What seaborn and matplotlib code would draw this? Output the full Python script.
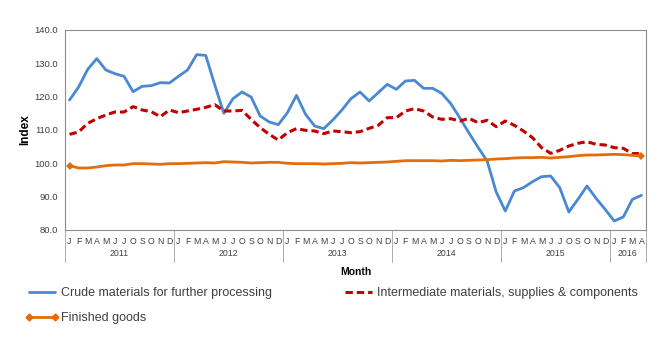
import matplotlib
matplotlib.use("Agg")
import matplotlib.pyplot as plt
import matplotlib.transforms as mtransforms
from matplotlib.lines import Line2D
import seaborn as sns
import pandas as pd
import numpy as np

years = ["2011", "2012", "2013", "2014", "2015", "2016"]
months_per_year = [12, 12, 12, 12, 12, 4]
month_letters = ["J", "F", "M", "A", "M", "J", "J", "O", "S", "O", "N", "D"]

crude = [119.0, 122.9, 128.2, 131.4, 128.0, 126.9, 126.1, 121.5, 123.1, 123.3, 124.2, 124.1,
         126.1, 128.0, 132.6, 132.4, 123.5, 115.0, 119.4, 121.4, 119.9, 114.2, 112.4, 111.6,
         115.2, 120.4, 114.7, 111.2, 110.4, 113.0, 116.0, 119.4, 121.4, 118.7, 121.2, 123.7,
         122.2, 124.7, 124.9, 122.5, 122.5, 121.0, 117.9, 113.6, 109.1, 104.8, 100.7, 91.4,
         85.7, 91.7, 92.7, 94.5, 96.0, 96.2, 92.7, 85.4, 89.2, 93.2, 89.5, 86.2,
         82.7, 83.9, 89.2, 90.4]
intermediate = [108.7, 109.4, 112.0, 113.4, 114.5, 115.4, 115.4, 117.0, 116.0, 115.5, 114.0, 116.0,
                115.2, 115.7, 116.2, 116.8, 117.6, 115.7, 115.7, 115.9, 113.2, 110.7, 108.7, 107.0,
                109.2, 110.4, 109.9, 109.7, 108.9, 109.7, 109.5, 109.2, 109.5, 110.5, 111.4, 113.7,
                113.7, 115.7, 116.4, 115.7, 113.9, 113.2, 113.4, 112.7, 113.5, 112.2, 112.9, 111.0,
                112.7, 111.4, 109.7, 107.7, 104.7, 103.0, 103.9, 105.2, 106.0, 106.5, 105.7, 105.5,
                104.7, 104.5, 102.9, 103.0]
finished = [99.3, 98.6, 98.6, 98.9, 99.3, 99.5, 99.5, 99.9, 99.9, 99.8, 99.7, 99.9,
            99.9, 100.0, 100.1, 100.2, 100.1, 100.5, 100.4, 100.3, 100.1, 100.2, 100.3, 100.3,
            100.0, 99.9, 99.9, 99.9, 99.8, 99.9, 100.0, 100.2, 100.1, 100.2, 100.3, 100.4,
            100.6, 100.8, 100.8, 100.8, 100.8, 100.7, 100.9, 100.8, 100.9, 101.0, 101.1, 101.3,
            101.4, 101.6, 101.7, 101.7, 101.8, 101.6, 101.8, 102.0, 102.3, 102.5, 102.5, 102.6,
            102.7, 102.6, 102.4, 102.2]

series_names = ["Crude materials for further processing",
                "Intermediate materials, supplies & components",
                "Finished goods"]
colors = ["#4A88D2", "#C00000", "#E46C0A"]

sns.set_theme(style="white")
plt.rcParams["font.family"] = ["Liberation Sans", "DejaVu Sans"]

labels = []
for n in months_per_year:
    labels += month_letters[:n]
n_total = len(labels)
xs = np.arange(n_total)

df = pd.DataFrame({"x": np.tile(xs, 3),
                   "value": crude + intermediate + finished,
                   "series": np.repeat(series_names, n_total)})

fig = plt.figure(figsize=(6.62, 3.40), dpi=100)
ax = fig.add_axes([65 / 662, 1 - 230 / 340, (646 - 65) / 662, 200 / 340])

dash = (0, (2.4, 1.3))
d0 = df[df.series == series_names[0]]
d1 = df[df.series == series_names[1]]
d2 = df[df.series == series_names[2]]
sns.lineplot(data=d0, x="x", y="value", color=colors[0], lw=2.0, ax=ax, legend=False)
sns.lineplot(data=d1, x="x", y="value", color=colors[1], lw=2.2, ax=ax, legend=False,
             linestyle=dash)
sns.lineplot(data=d2, x="x", y="value", color=colors[2], lw=2.0, ax=ax, legend=False,
             marker="D", markersize=4.5, markevery=[0, n_total - 1], markeredgewidth=0)

ax.set_xlim(-0.5, n_total - 0.5)
ax.set_ylim(80, 140)
ax.set_yticks(np.arange(80, 141, 10))
ax.set_yticklabels([f"{v:.1f}" for v in np.arange(80, 141, 10)], fontsize=6.8, color="#404040")
ax.tick_params(axis="y", length=0, pad=5)

ax.set_xticks(xs)
ax.set_xticklabels(labels, fontsize=6.3, color="#404040")
ax.set_xticks(np.arange(-0.5, n_total, 1), minor=True)
ax.tick_params(axis="x", which="major", length=0, pad=5)
ax.tick_params(axis="x", which="minor", length=17, width=0.6, color="#A0A0A0", direction="out")

for s in ax.spines.values():
    s.set_color("#8C8C8C")
    s.set_linewidth(0.8)

trans = mtransforms.blended_transform_factory(ax.transData, ax.transAxes)
pos = -0.5
for yr, n in zip(years, months_per_year):
    ax.plot([pos, pos], [0, -0.16], transform=trans, color="#A0A0A0", lw=0.6, clip_on=False)
    ax.text(pos + n / 2, -0.115, yr, transform=trans, ha="center", va="center",
            fontsize=6.3, color="#404040")
    pos += n
ax.plot([pos, pos], [0, -0.16], transform=trans, color="#A0A0A0", lw=0.6, clip_on=False)

ax.set_xlabel("Month", fontsize=7.5, fontweight="bold", labelpad=6, color="black")
ax.set_ylabel("Index", fontsize=8.5, fontweight="bold", labelpad=2, color="black")

handles = [Line2D([], [], color=colors[0], lw=2.0),
           Line2D([], [], color=colors[2], lw=2.0, marker="D", markersize=3.5),
           Line2D([], [], color=colors[1], lw=2.2, linestyle=dash)]
names = [series_names[0], series_names[2], series_names[1]]
leg = fig.legend(handles, names, loc="upper left", bbox_to_anchor=(25 / 662, 1 - 287 / 340),
                 ncol=2, frameon=False, fontsize=9, handlelength=2.7, handletextpad=0.15,
                 columnspacing=5.6, labelspacing=1.05, numpoints=2, borderpad=0,
                 borderaxespad=0)
for t in leg.get_texts():
    t.set_color("#404040")

fig.savefig("out.png", dpi=100)
